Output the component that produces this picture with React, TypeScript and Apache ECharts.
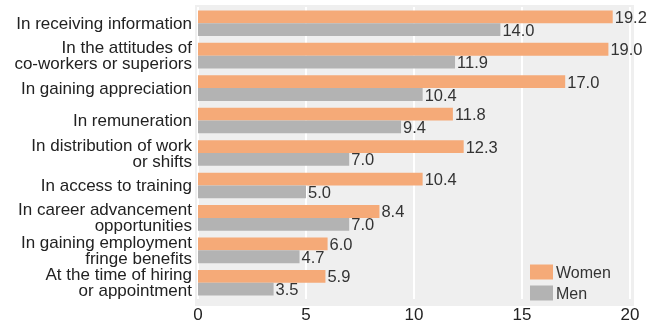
import React, { useEffect, useRef } from "react";
import * as echarts from "echarts";

const categories = [
  "In receiving information",
  "In the attitudes of\nco-workers or superiors",
  "In gaining appreciation",
  "In remuneration",
  "In distribution of work\nor shifts",
  "In access to training",
  "In career advancement\nopportunities",
  "In gaining employment\nfringe benefits",
  "At the time of hiring\nor appointment",
];
const women = [19.2, 19.0, 17.0, 11.8, 12.3, 10.4, 8.4, 6.0, 5.9];
const men = [14.0, 11.9, 10.4, 9.4, 7.0, 5.0, 7.0, 4.7, 3.5];
const xTicks = [0, 5, 10, 15, 20];

const FONT = "'Liberation Sans', Arial, Helvetica, sans-serif";

export default function App() {
  const ref = useRef<HTMLDivElement>(null);
  useEffect(() => {
    if (!ref.current) return;
    const chart = echarts.init(ref.current, null, { renderer: "svg" });
    const label = {
      show: true,
      position: "right" as const,
      distance: 2,
      color: "#333",
      fontSize: 16.5,
      fontFamily: FONT,
      formatter: (p: any) => Number(p.value).toFixed(1),
    };
    chart.setOption({
      animation: false,
      textStyle: { fontFamily: FONT },
      graphic: [
        {
          type: "rect",
          z: -10,
          silent: true,
          shape: { x: 195, y: 5, width: 439, height: 301 },
          style: { fill: "#efefef" },
        },
      ],
      grid: { left: 198, right: 17, top: 7, bottom: 16, containLabel: false },
      legend: {
        orient: "vertical",
        left: 530,
        top: 264,
        padding: 0,
        itemWidth: 23,
        itemHeight: 15,
        itemGap: 5,
        icon: "rect",
        textStyle: { fontSize: 16, color: "#333", fontFamily: FONT, padding: [0, 0, 0, -2] },
        data: ["Women", "Men"],
      },
      xAxis: {
        type: "value",
        min: xTicks[0],
        max: xTicks[xTicks.length - 1],
        interval: 5,
        axisLine: { show: false },
        axisTick: { show: false },
        splitLine: { show: true, lineStyle: { color: "#ffffff", width: 2 } },
        axisLabel: { fontSize: 17, color: "#222", margin: 7, fontFamily: FONT },
      },
      yAxis: {
        type: "category",
        data: categories,
        inverse: true,
        axisLine: { show: false },
        axisTick: { show: false },
        splitLine: { show: false },
        axisLabel: {
          interval: 0,
          hideOverlap: false,
          fontSize: 17,
          color: "#222",
          margin: 6,
          lineHeight: 16,
          align: "right",
          fontFamily: FONT,
        },
      },
      series: [
        {
          name: "Women",
          type: "bar",
          data: women,
          barGap: "0%",
          barCategoryGap: "21%",
          itemStyle: { color: "#f5aa78" },
          label,
        },
        {
          name: "Men",
          type: "bar",
          data: men,
          barGap: "0%",
          barCategoryGap: "21%",
          itemStyle: { color: "#b3b3b3" },
          label,
        },
      ],
    });
    return () => chart.dispose();
  }, []);
  return (
    <div
      ref={ref}
      style={{ position: "fixed", left: 0, top: 0, width: 647, height: 323 }}
    />
  );
}
